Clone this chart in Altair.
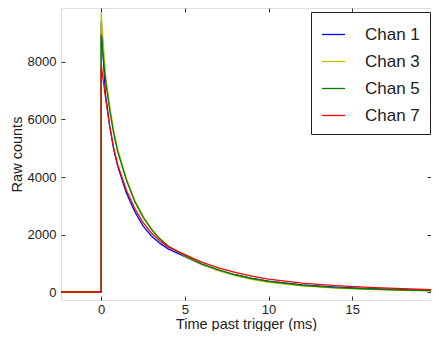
import altair as alt
import pandas as pd

times = [-2.4, 0, 0, 0.25, 0.5, 0.75, 1, 1.5, 2, 2.5, 3, 3.5, 4, 5, 6, 7, 8, 9, 10, 12, 14, 16, 18, 19.7]

chan1 = [0, 0, 9400, 6900, 5800, 4950, 4350, 3450, 2800, 2300, 1950, 1700, 1500, 1230, 960, 760, 600, 470, 380, 250, 170, 115, 80, 55]
chan3 = [0, 0, 9700, 7600, 6500, 5600, 4950, 3950, 3200, 2650, 2200, 1850, 1600, 1250, 960, 740, 570, 440, 340, 210, 135, 90, 60, 40]
chan5 = [0, 0, 8950, 7400, 6350, 5500, 4850, 3900, 3150, 2600, 2180, 1850, 1600, 1260, 980, 770, 600, 470, 370, 235, 155, 105, 70, 50]
chan7 = [0, 0, 7900, 6800, 5800, 5000, 4400, 3550, 2900, 2420, 2050, 1780, 1570, 1300, 1040, 840, 680, 550, 450, 310, 220, 160, 115, 85]

names = ["Chan 1", "Chan 3", "Chan 5", "Chan 7"]
colors = ["#0000ff", "#bfbf00", "#008000", "#ff0000"]
series = [chan1, chan3, chan5, chan7]

x_ticks = [0, 5, 10, 15]
y_ticks = [0, 2000, 4000, 6000, 8000]

rows = []
for ci, (n, s) in enumerate(zip(names, series)):
    for i, (t, v) in enumerate(zip(times, s)):
        rows.append({"t": t, "v": v, "chan": n, "idx": i, "z": ci})
df = pd.DataFrame(rows)

W, H = 370, 292
xs = alt.Scale(domain=[-2.4, 19.7], nice=False, zero=False)
ys = alt.Scale(domain=[-278, 9878], nice=False, zero=False)
font = "Liberation Sans"
ink = "#222222"

main = alt.Chart(df).mark_line(strokeWidth=1.3, clip=True).encode(
    x=alt.X("t:Q", scale=xs, axis=alt.Axis(
        title="Time past trigger (ms)", values=x_ticks, format="d", ticks=False, domain=False, grid=False,
        labelFontSize=13, titleFontSize=14.5, labelFont=font, titleFont=font,
        labelColor=ink, titleColor=ink, titleFontWeight="normal",
        labelPadding=3, titlePadding=1)),
    y=alt.Y("v:Q", scale=ys, axis=alt.Axis(
        title="Raw counts", values=y_ticks, format="d", ticks=False, domain=False, grid=False,
        labelFontSize=13, titleFontSize=14.5, labelFont=font, titleFont=font,
        labelColor=ink, titleColor=ink, titleFontWeight="normal",
        labelPadding=5, titlePadding=3)),
    color=alt.Color("chan:N", scale=alt.Scale(domain=names, range=colors), legend=alt.Legend(
        title=None, orient="none", legendX=250, legendY=4,
        symbolType="stroke", symbolSize=529, symbolStrokeWidth=1.3,
        labelFontSize=17, labelFont=font, labelColor=ink, labelOffset=19,
        strokeColor=ink, fillColor="white", padding=10, rowPadding=6,
        cornerRadius=0)),
    order=alt.Order("idx:Q"),
    detail="chan:N",
)

tick_style = dict(labels=False, domain=False, grid=False, ticks=True, tickSize=4,
                  tickColor="#333333", title=None)

ticks_a = alt.Chart(df).mark_line(strokeOpacity=0).encode(
    x=alt.X("t:Q", scale=xs, axis=alt.Axis(orient="top", offset=-H, values=x_ticks, **tick_style)),
    y=alt.Y("v:Q", scale=ys, axis=alt.Axis(orient="right", offset=-W, values=y_ticks, **tick_style)),
)
ticks_b = alt.Chart(df).mark_line(strokeOpacity=0).encode(
    x=alt.X("t:Q", scale=xs, axis=alt.Axis(orient="bottom", offset=-H, values=x_ticks, **tick_style)),
    y=alt.Y("v:Q", scale=ys, axis=alt.Axis(orient="left", offset=-W, values=y_ticks, **tick_style)),
)

chart = alt.layer(main, ticks_a, ticks_b).resolve_axis(x="independent", y="independent").properties(
    width=W, height=H,
    autosize=alt.AutoSizeParams(type="none"),
    padding={"left": 53, "top": 0, "right": 0, "bottom": 31},
).configure_view(stroke="#333333", strokeWidth=1.2).configure(background="white")

chart.save("out.html", embed_options={"renderer": "svg", "actions": False})
